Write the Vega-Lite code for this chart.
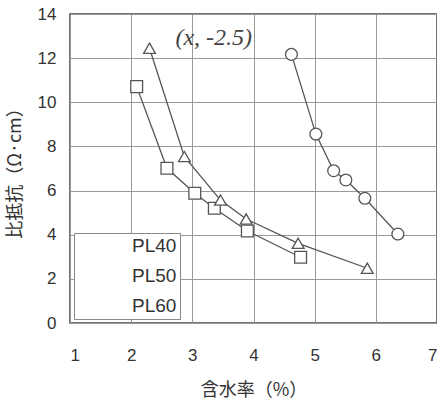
{
  "$schema": "https://vega.github.io/schema/vega-lite/v6.json",
  "width": 437,
  "height": 403,
  "autosize": {"type": "fit", "contains": "padding"},
  "padding": {"left": 6, "top": 5, "right": 0, "bottom": 4},
  "background": "white",
  "config": {
    "view": {"stroke": "#444", "strokeWidth": 1.5},
    "axis": {
      "labelFont": "Liberation Sans",
      "labelFontSize": 17,
      "labelColor": "#333",
      "titleFont": "Noto Sans CJK JP",
      "titleFontSize": 18,
      "titleFontWeight": "normal",
      "titleColor": "#333",
      "grid": true,
      "gridColor": "#999",
      "gridWidth": 1,
      "gridOpacity": 1,
      "ticks": false,
      "domain": false
    }
  },
  "data": {
    "values": [
      {"series": "PL40", "x": 4.62, "y": 12.17},
      {"series": "PL40", "x": 5.02, "y": 8.56},
      {"series": "PL40", "x": 5.31, "y": 6.9},
      {"series": "PL40", "x": 5.51, "y": 6.48},
      {"series": "PL40", "x": 5.82, "y": 5.65},
      {"series": "PL40", "x": 6.36, "y": 4.03},
      {"series": "PL50", "x": 2.09, "y": 10.71},
      {"series": "PL50", "x": 2.585, "y": 7.01},
      {"series": "PL50", "x": 3.04, "y": 5.88},
      {"series": "PL50", "x": 3.36, "y": 5.2},
      {"series": "PL50", "x": 3.9, "y": 4.17},
      {"series": "PL50", "x": 4.77, "y": 2.98},
      {"series": "PL60", "x": 2.3, "y": 12.45},
      {"series": "PL60", "x": 2.87, "y": 7.54},
      {"series": "PL60", "x": 3.46, "y": 5.57},
      {"series": "PL60", "x": 3.88, "y": 4.71},
      {"series": "PL60", "x": 4.73, "y": 3.61},
      {"series": "PL60", "x": 5.86, "y": 2.48}
    ]
  },
  "layer": [
    {
      "mark": {"type": "line", "color": "#555", "strokeWidth": 1.3},
      "encoding": {
        "x": {
          "field": "x", "type": "quantitative",
          "scale": {"domain": [1, 7], "nice": false, "zero": false},
          "axis": {"values": [1, 2, 3, 4, 5, 6, 7], "format": "d", "grid": true, "labelPadding": 24, "title": "含水率（%）", "titleY": 67, "titleBaseline": "middle"}
        },
        "y": {
          "field": "y", "type": "quantitative",
          "scale": {"domain": [0, 14], "nice": false},
          "axis": {"values": [0, 2, 4, 6, 8, 10, 12, 14], "format": "d", "grid": true, "labelPadding": 14, "title": "比抵抗（Ω·cm）", "titleX": -55, "titleBaseline": "middle"}
        },
        "detail": {"field": "series"}
      }
    },
    {
      "mark": {"type": "point", "filled": true, "fill": "white", "stroke": "#555", "strokeWidth": 1.3, "opacity": 1, "size": 140},
      "encoding": {
        "x": {"field": "x", "type": "quantitative"},
        "y": {"field": "y", "type": "quantitative"},
        "shape": {
          "field": "series", "type": "nominal",
          "scale": {"domain": ["PL40", "PL50", "PL60"], "range": ["circle", "square", "triangle-up"]},
          "legend": {
            "title": null,
            "orient": "bottom-left",
            "offset": 4,
            "direction": "vertical",
            "padding": 3,
            "strokeColor": "#888",
            "fillColor": "white",
            "labelFont": "Liberation Sans",
            "labelFontSize": 19,
            "labelColor": "#333",
            "symbolSize": 100,
            "symbolStrokeWidth": 1.3,
            "symbolStrokeColor": "#555",
            "symbolFillColor": "white",
            "symbolOffset": 17,
            "labelOffset": 19,
            "rowPadding": 10,
            "encode": {
              "symbols": {
                "update": {
                  "stroke": {"value": "#555"},
                  "fill": {"value": "white"},
                  "strokeWidth": {"value": 1.3},
                  "shape": {"signal": "datum.value === 'PL40' ? 'M-4.5,0H-1M1,0H4.5M1,0A1,1,0,1,1,-1,0A1,1,0,1,1,1,0Z' : datum.value === 'PL50' ? 'M-4.5,0H-1.05M1.05,0H4.5M-1.05,-1.05H1.05V1.05H-1.05Z' : 'M-4.5,0H-0.65M0.65,0H4.5M0,-1.1L1.3,1.1H-1.3Z'"}
                }
              }
            }
          }
        }
      }
    },
    {
      "data": {"values": [{"x": 3.35, "y": 12.9, "label": "(x, -2.5)"}]},
      "mark": {"type": "text", "font": "Liberation Serif", "fontStyle": "italic", "fontSize": 24, "color": "#444", "align": "center", "baseline": "middle"},
      "encoding": {
        "x": {"field": "x", "type": "quantitative"},
        "y": {"field": "y", "type": "quantitative"},
        "text": {"field": "label"}
      }
    }
  ]
}
